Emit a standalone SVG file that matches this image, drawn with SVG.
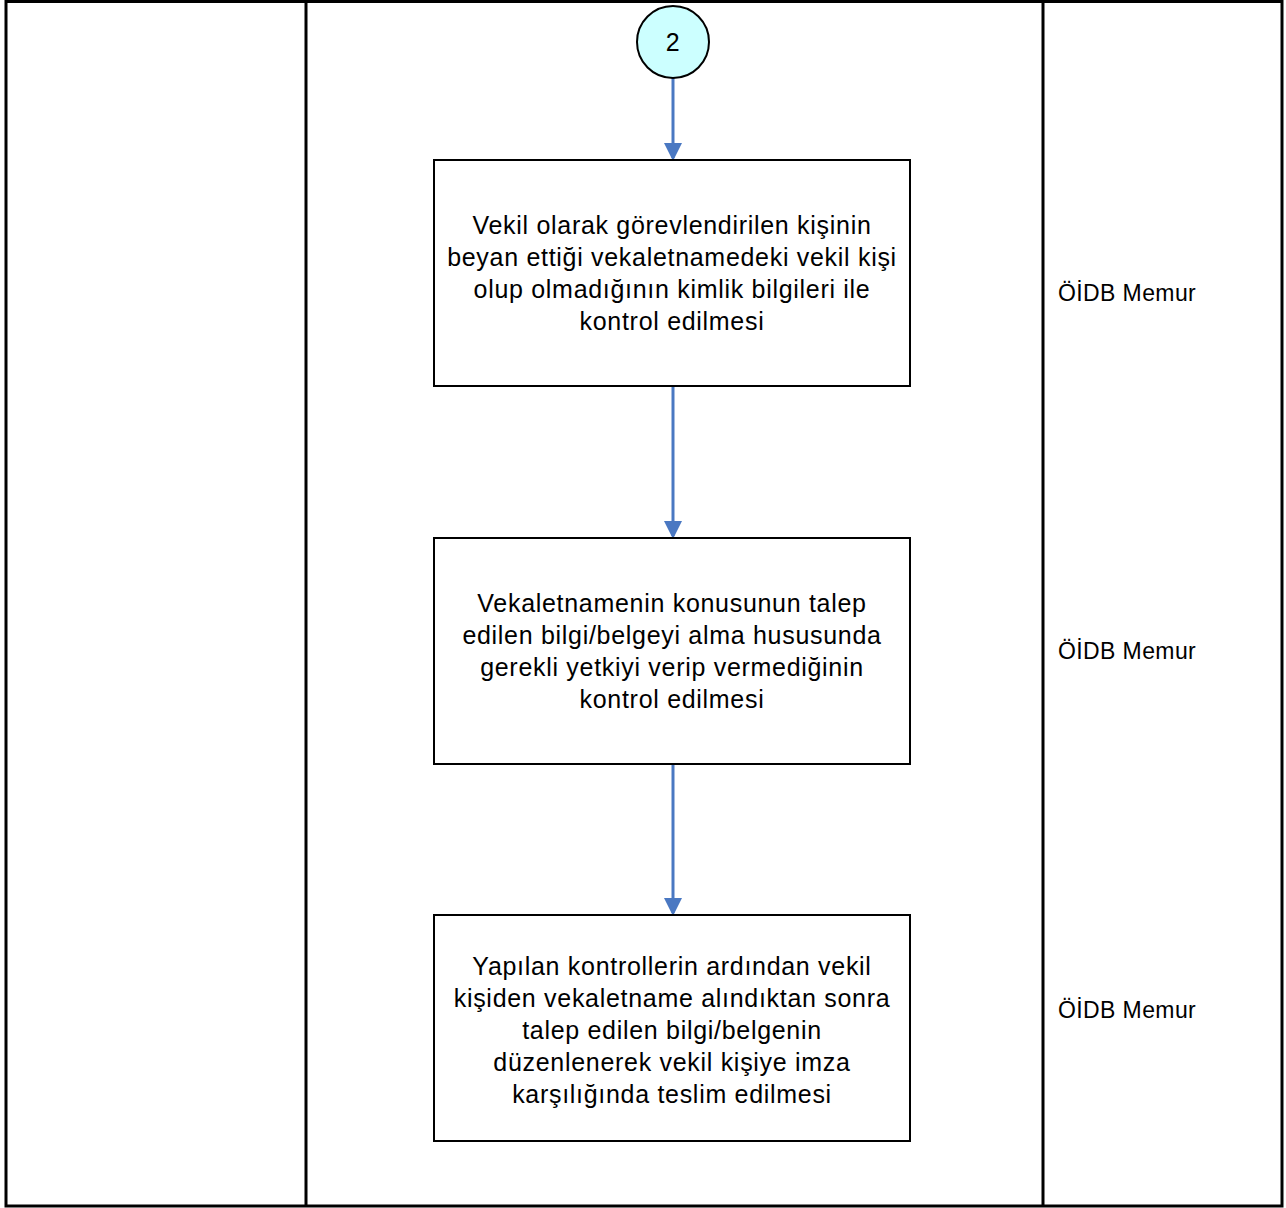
<svg xmlns="http://www.w3.org/2000/svg" width="1286" height="1208" viewBox="0 0 1286 1208">
<style>
.lane{fill:none;stroke:#000;stroke-width:3}
.box{fill:#fff;stroke:#000;stroke-width:2}
.t{font-family:"Liberation Sans",Arial,sans-serif;font-size:25px;letter-spacing:0.7px;fill:#000;text-anchor:middle}
.r{font-family:"Liberation Sans",Arial,sans-serif;font-size:23px;letter-spacing:0.4px;fill:#000}
.c{stroke:#4a78c2;stroke-width:3;fill:none;marker-end:url(#ah)}
</style>
<defs>
<marker id="ah" markerWidth="6" markerHeight="6" refX="5" refY="3" orient="auto" markerUnits="strokeWidth" viewBox="0 0 6 6">
<path d="M0,0 L6,3 L0,6 z" fill="#4a78c2"/>
</marker>
</defs>
<rect fill="#fff" x="0" y="0" width="1286" height="1208"/>
<g id="lanes">
<rect class="lane" x="6" y="1.5" width="1276" height="1204.5"/>
<line class="lane" x1="306" y1="1" x2="306" y2="1206"/>
<line class="lane" x1="1043" y1="1" x2="1043" y2="1206"/>
</g>
<g id="connectors">
<line class="c" x1="673" y1="78" x2="673" y2="158"/>
<line class="c" x1="673" y1="387" x2="673" y2="536"/>
<line class="c" x1="673" y1="765" x2="673" y2="913"/>
</g>
<g id="n0">
<circle cx="673" cy="42" r="36" fill="#ccffff" stroke="#000" stroke-width="2"/>
<text class="r" x="673" y="51" text-anchor="middle" style="font-size:25px">2</text>
</g>
<g id="n1">
<rect class="box" x="434" y="160" width="476" height="226"/>
<text class="t" x="672" y="234">Vekil olarak görevlendirilen kişinin</text>
<text class="t" x="672" y="266">beyan ettiği vekaletnamedeki vekil kişi</text>
<text class="t" x="672" y="298">olup olmadığının kimlik bilgileri ile</text>
<text class="t" x="672" y="330">kontrol edilmesi</text>
</g>
<g id="n2">
<rect class="box" x="434" y="538" width="476" height="226"/>
<text class="t" x="672" y="612">Vekaletnamenin konusunun talep</text>
<text class="t" x="672" y="644">edilen bilgi/belgeyi alma hususunda</text>
<text class="t" x="672" y="676">gerekli yetkiyi verip vermediğinin</text>
<text class="t" x="672" y="708">kontrol edilmesi</text>
</g>
<g id="n3">
<rect class="box" x="434" y="915" width="476" height="226"/>
<text class="t" x="672" y="975">Yapılan kontrollerin ardından vekil</text>
<text class="t" x="672" y="1007">kişiden vekaletname alındıktan sonra</text>
<text class="t" x="672" y="1039">talep edilen bilgi/belgenin</text>
<text class="t" x="672" y="1071">düzenlenerek vekil kişiye imza</text>
<text class="t" x="672" y="1103">karşılığında teslim edilmesi</text>
</g>
<g id="labels">
<text class="r" x="1058" y="301">ÖİDB Memur</text>
<text class="r" x="1058" y="659">ÖİDB Memur</text>
<text class="r" x="1058" y="1018">ÖİDB Memur</text>
</g>
</svg>
